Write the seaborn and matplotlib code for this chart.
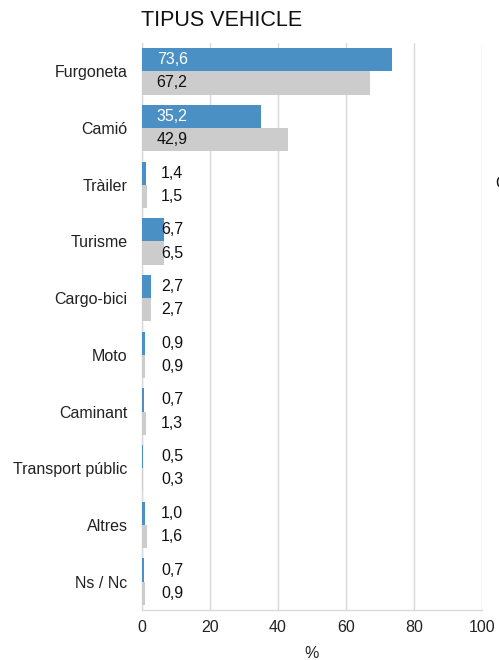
import matplotlib
matplotlib.use("Agg")
import matplotlib.pyplot as plt
import seaborn as sns
import pandas as pd

categories = ["Furgoneta", "Camió", "Tràiler", "Turisme", "Cargo-bici", "Moto",
              "Caminant", "Transport públic", "Altres", "Ns / Nc"]
serie_a = [73.6, 35.2, 1.4, 6.7, 2.7, 0.9, 0.7, 0.5, 1.0, 0.7]
serie_b = [67.2, 42.9, 1.5, 6.5, 2.7, 0.9, 1.3, 0.3, 1.6, 0.9]
series_names = ["Sèrie 1", "Sèrie 2"]
xticks = [0, 20, 40, 60, 80, 100]

df = pd.DataFrame({
    "cat": categories * 2,
    "val": serie_a + serie_b,
    "serie": [series_names[0]] * len(categories) + [series_names[1]] * len(categories),
})

sns.set_theme(style="white")
plt.rcParams["font.family"] = ["Liberation Sans", "DejaVu Sans"]

fig = plt.figure(figsize=(4.99, 6.6), dpi=100)
ax = fig.add_axes([141.5 / 499, 1 - 610 / 660, (482 - 141.5) / 499, (610 - 43) / 660])

colors = ["#4A90C4", "#CCCCCC"]
sns.barplot(data=df, y="cat", x="val", hue="serie", order=categories,
            hue_order=series_names, palette=colors, orient="h",
            width=0.82, saturation=1, ax=ax, legend=False, zorder=3,
            edgecolor="none", linewidth=0)

fs = 11.5
ax.set_xlim(0, 100)
ax.set_ylim(len(categories) - 0.5, -0.5)
ax.set_xticks(xticks)
ax.set_xticklabels([str(t) for t in xticks], fontsize=fs, color="#222222")
ax.tick_params(axis="x", length=0, pad=7)
ax.tick_params(axis="y", length=0, pad=10, labelsize=fs, labelcolor="#222222")
ax.xaxis.grid(True, color="#D9D9D9", linewidth=1, zorder=0)
ax.set_axisbelow(True)
for s in ["top", "right"]:
    ax.spines[s].set_visible(False)
for s in ["left", "bottom"]:
    ax.spines[s].set_color("#D9D9D9")
    ax.spines[s].set_linewidth(1)
    ax.spines[s].set_zorder(1)
ax.set_ylabel("")
ax.set_xlabel("")

label_x = 9.0
for ci, (cont, vals) in enumerate(zip(ax.containers, [serie_a, serie_b])):
    for bar, v in zip(cont, vals):
        bar.set_zorder(3)
        yc = bar.get_y() + bar.get_height() / 2
        col = "white" if (ci == 0 and v > 14) else "#111111"
        ax.text(label_x, yc, f"{v:.1f}".replace(".", ","), ha="center", va="center",
                fontsize=fs, color=col, zorder=5)

fig.text(141 / 499, 1 - 20 / 660, "TIPUS VEHICLE", fontsize=15.5, ha="left", va="center", color="#111111")
fig.text(311.5 / 499, 1 - 653 / 660, "%", fontsize=fs, ha="center", va="center", color="#222222")
fig.text(495.5 / 499, 1 - 183 / 660, "C", fontsize=fs, ha="left", va="center", color="#111111")

fig.savefig("out.png", dpi=100)
